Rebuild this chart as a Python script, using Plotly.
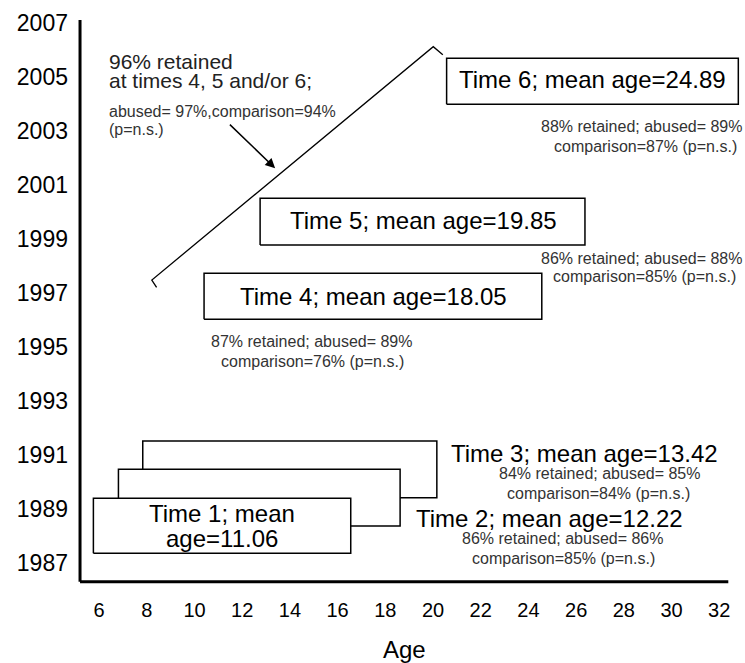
import plotly.graph_objects as go

# ---- data ----
time_labels = ["Time 1", "Time 2", "Time 3", "Time 4", "Time 5", "Time 6"]
box_age_start = [5.76, 6.81, 7.83, 10.40, 12.75, 20.57]
box_age_end = [16.55, 18.62, 20.16, 24.56, 26.37, 32.80]
box_year_low = [1987.37, 1988.38, 1989.43, 1996.04, 1998.79, 2004.00]
box_year_high = [1989.41, 1990.48, 1991.53, 1997.74, 2000.52, 2005.70]

bracket_age = [8.41, 8.21, 20.01, 20.41]
bracket_year = [1997.22, 1997.49, 2006.13, 2005.83]

x_ticks = [6, 8, 10, 12, 14, 16, 18, 20, 22, 24, 26, 28, 30, 32]
y_ticks = [1987, 1989, 1991, 1993, 1995, 1997, 1999, 2001, 2003, 2005, 2007]

# big labels: text, age (x), year (y)
big_texts = ["Time 1; mean", "age=11.06", "Time 2; mean age=12.22", "Time 3; mean age=13.42",
             "Time 4; mean age=18.05", "Time 5; mean age=19.85", "Time 6; mean age=24.89"]
big_x = [11.17, 11.17, 24.87, 26.37, 17.50, 19.59, 26.70]
big_y = [1988.85, 1987.93, 1988.67, 1991.07, 1996.87, 1999.71, 2004.90]

small_texts = ["86% retained; abused= 86%", "comparison=85% (p=n.s.)",
               "84% retained; abused= 85%", "comparison=84% (p=n.s.)",
               "87% retained; abused= 89%", "comparison=76% (p=n.s.)",
               "86% retained; abused= 88%", "comparison=85% (p=n.s.)",
               "88% retained; abused= 89%", "comparison=87% (p=n.s.)"]
small_x = [25.43, 25.46, 26.97, 26.93, 14.91, 14.93, 28.75, 28.88, 28.75, 28.91]
small_y = [1987.93, 1987.19, 1990.33, 1989.59, 1995.21, 1994.47, 1998.30, 1997.61, 2003.17, 2002.43]

note_texts = ["96% retained", "at times 4, 5 and/or 6;", "abused= 97%,comparison=94%", "(p=n.s.)"]
note_sizes = [21, 21, 16, 16]
note_x = [6.32, 6.32, 6.32, 6.32]
note_y = [2005.58, 2004.87, 2003.73, 2003.05]

arrow_tail = (11.42, 2003.30)
arrow_head = (13.38, 2001.63)

axis_age_min, axis_age_max = 5.20, 32.38
axis_year_min, axis_year_max = 1986.32, 2007.12

FONT = "Liberation Sans, Arial, sans-serif"

fig = go.Figure()

# boxes: draw back to front so that earlier waves sit on top
for i in [2, 1, 0, 3, 4, 5]:
    x0, x1 = box_age_start[i], box_age_end[i]
    y0, y1 = box_year_low[i], box_year_high[i]
    fig.add_trace(go.Scatter(
        x=[x0, x1, x1, x0, x0], y=[y0, y0, y1, y1, y0],
        mode="lines", fill="toself", fillcolor="white",
        line=dict(color="black", width=1.5), hoverinfo="skip",
        name=time_labels[i], showlegend=False))

fig.add_trace(go.Scatter(x=bracket_age, y=bracket_year, mode="lines",
                         line=dict(color="black", width=1.3), showlegend=False,
                         hoverinfo="skip"))

# axis lines
fig.add_shape(type="line", x0=axis_age_min, x1=axis_age_min, y0=axis_year_min, y1=axis_year_max,
              xref="x", yref="y", line=dict(color="black", width=3))
fig.add_shape(type="line", x0=axis_age_min, x1=axis_age_max, y0=axis_year_min, y1=axis_year_min,
              xref="x", yref="y", line=dict(color="black", width=3))

for t, x, y in zip(big_texts, big_x, big_y):
    fig.add_annotation(x=x, y=y, text=t, showarrow=False, xanchor="center", yanchor="middle",
                       font=dict(family=FONT, size=24, color="black"))
for t, x, y in zip(small_texts, small_x, small_y):
    fig.add_annotation(x=x, y=y, text=t, showarrow=False, xanchor="center", yanchor="middle",
                       font=dict(family=FONT, size=16, color="#333333"))
for t, s, x, y in zip(note_texts, note_sizes, note_x, note_y):
    fig.add_annotation(x=x, y=y, text=t, showarrow=False, xanchor="left", yanchor="middle",
                       font=dict(family=FONT, size=s, color="#222222" if s > 18 else "#333333"))

fig.add_annotation(x=arrow_head[0], y=arrow_head[1], ax=arrow_tail[0], ay=arrow_tail[1],
                   xref="x", yref="y", axref="x", ayref="y", text="", showarrow=True,
                   arrowhead=2, arrowsize=1.3, arrowwidth=1.5, arrowcolor="black")

fig.add_annotation(x=(axis_age_min + axis_age_max) / 2, y=-0.102, xref="x", yref="paper",
                   text="Age", showarrow=False, yanchor="middle",
                   font=dict(family=FONT, size=24, color="black"))

fig.update_layout(
    width=745, height=663,
    margin=dict(l=75, r=0, t=10, b=73),
    paper_bgcolor="white", plot_bgcolor="white",
    showlegend=False,
    font=dict(family=FONT, color="black"),
)
fig.update_xaxes(range=[4.989, 33.08], tickvals=x_ticks, ticktext=[str(v) for v in x_ticks],
                 showgrid=False, zeroline=False, showline=False, ticks="",
                 tickfont=dict(family=FONT, size=20, color="black"), ticklabelstandoff=6)
fig.update_yaxes(range=[1986.011, 2007.49], tickvals=y_ticks, ticktext=[str(v) for v in y_ticks],
                 showgrid=False, zeroline=False, showline=False, ticks="",
                 tickfont=dict(family=FONT, size=23, color="black"), ticklabelstandoff=6)

fig.write_html("out.html", config={"displayModeBar": False},
               post_script="document.body.style.margin='0';document.body.style.overflow='hidden';")
